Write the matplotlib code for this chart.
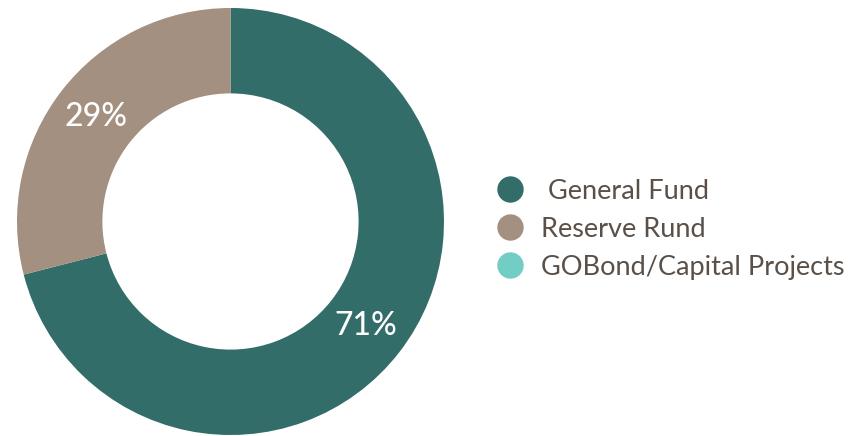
import matplotlib
matplotlib.use("Agg")
import matplotlib.pyplot as plt
from matplotlib.lines import Line2D

plt.rcParams['font.family'] = ['Lato', 'DejaVu Sans']

labels = [" General Fund", "Reserve Rund", "GOBond/Capital Projects"]
shares = [71, 29, 0]
colors = ["#336d69", "#a39080", "#72cdc5"]

W, H = 867, 436
fig = plt.figure(figsize=(W / 100, H / 100), dpi=100)
# donut centre ~ (230.5, 221.5) px, outer radius ~213.5 px
ax = fig.add_axes([17 / W, 1 / H, 427 / W, 427 / H])
ax.pie(shares, colors=colors, startangle=90, counterclock=False, radius=1,
       wedgeprops=dict(width=0.4, linewidth=0),
       autopct=lambda p: f"{p:.0f}%" if p > 0 else "", pctdistance=0.8,
       textprops=dict(color="white", fontsize=23, fontweight="medium"))
ax.set_xlim(-1, 1); ax.set_ylim(-1, 1)
ax.set_aspect("equal")
ax.axis("off")

handles = [Line2D([0], [0], marker="o", ls="", markersize=19, markerfacecolor=c,
                  markeredgewidth=0) for c in colors]
fig.legend(handles, labels, loc="center left", bbox_to_anchor=(494 / W, 1 - 229 / H),
           frameon=False, fontsize=19.5, labelcolor="#5a5048", handletextpad=0.55,
           labelspacing=0.48, handlelength=1.2, borderpad=0, borderaxespad=0)

fig.savefig("out.png", dpi=100)
